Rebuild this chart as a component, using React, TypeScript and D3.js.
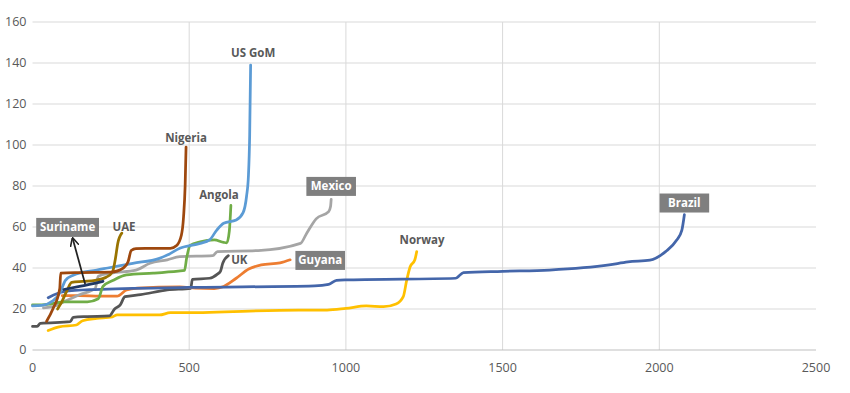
import React from "react";
import * as d3 from "d3";

// [x, y] points
const brazil = [[50,25.5],[100,28.5],[200,29.5],[500,30.5],[900,31.3],[945,32],[970,34],[1010,34.2],[1350,35],[1375,37.8],[1500,38.4],[1650,39],[1840,41.5],[1900,43],[1970,43.8],[2020,48],[2055,53.5],[2072,58.5],[2080,66]];
const usGom = [[0,21.5],[30,21.8],[65,24],[88,28],[105,34],[130,36.5],[205,39],[240,40],[320,42.3],[405,44.7],[430,46.3],[470,49.6],[535,52],[565,53.7],[588,58.5],[610,61.8],[650,63.4],[672,67],[683,75],[689,85],[693,105],[696,139]];
const nigeria = [[45,14],[65,20],[87,30],[90,37.5],[150,37.8],[250,38],[290,40],[305,43],[315,48.5],[330,49.5],[440,49.6],[460,51],[475,56],[482,65],[487,80],[490,99]];
const uae = [[80,20],[95,24],[110,29],[125,33],[160,33.5],[200,34],[235,35.5],[255,38],[265,45],[272,52],[285,57]];
const angola = [[0,22],[30,22],[60,22.5],[100,23.5],[175,23.5],[210,25],[225,31],[258,34],[300,36.6],[385,37.5],[465,38.5],[485,38.8],[492,45],[503,51],[535,52.8],[580,53.7],[610,52.5],[620,52.3],[628,58],[633,70.5]];
const mexico = [[35,20.5],[60,21],[80,22],[100,23.5],[150,27],[200,30],[210,36],[250,37.5],[330,39],[375,42.3],[430,44],[470,45.5],[575,46],[590,48],[720,48.5],[855,52],[875,57],[905,64],[945,67.5],[951,70],[953,73.5]];
const uk = [[0,11.5],[15,11.5],[25,13],[120,13.8],[130,15.9],[175,16.3],[245,16.6],[262,20],[280,22],[295,26],[345,27],[430,29.3],[505,30.1],[510,34.5],[565,35],[590,37],[600,38.5],[607,42.3],[625,46]];
const guyana = [[95,26.5],[150,26.5],[215,26.3],[270,26.3],[300,29.3],[335,30.2],[470,30.8],[520,30.2],[580,30],[610,31],[650,35],[690,39.5],[730,41.5],[790,42.5],[822,44]];
const norway = [[50,9.5],[85,11.3],[140,12.2],[160,14.3],[205,15.4],[255,16.2],[270,17.1],[405,17.1],[440,18.2],[490,18.2],[850,19.5],[940,19.5],[1000,20.3],[1065,21.5],[1120,21.1],[1160,22.4],[1183,26],[1194,34],[1205,40.6],[1220,44],[1226,48]];
const suriname = [[100,29.5],[150,31],[225,33.5]];

const series = [
  { name: "Norway", color: "#ffc000", data: norway },
  { name: "UK", color: "#555555", data: uk },
  { name: "Guyana", color: "#ed7d31", data: guyana },
  { name: "Mexico", color: "#a5a5a5", data: mexico },
  { name: "Brazil", color: "#4466aa", data: brazil },
  { name: "Angola", color: "#70ad47", data: angola },
  { name: "US GoM", color: "#5b9bd5", data: usGom },
  { name: "UAE", color: "#997300", data: uae },
  { name: "Nigeria", color: "#9e480e", data: nigeria },
  { name: "Suriname", color: "#203864", data: suriname },
];

// plain text labels and boxed labels, anchored in data units
const textLabels = [
  { text: "US GoM", x: 704, y: 145 },
  { text: "Nigeria", x: 490, y: 103.4 },
  { text: "Angola", x: 595, y: 75.6 },
  { text: "UAE", x: 292, y: 60 },
  { text: "UK", x: 660, y: 43.9 },
  { text: "Norway", x: 1243, y: 53.7 },
];
const boxLabels = [
  { text: "Mexico", x: 953, y: 79.8 },
  { text: "Guyana", x: 918, y: 43.7 },
  { text: "Brazil", x: 2080, y: 71.7 },
  { text: "Suriname", x: 112, y: 59.8 },
];
const surinameArrow = [[168, 32.2], [128, 54.5]];

const xTicks = [0, 500, 1000, 1500, 2000, 2500];
const yTicks = [0, 20, 40, 60, 80, 100, 120, 140, 160];

export default function App() {
  const width = 850;
  const height = 393;
  const marginLeft = 32.5;
  const marginRight = 34;
  const marginTop = 22;
  const marginBottom = 43;

  const x = d3.scaleLinear([0, 2500], [marginLeft, width - marginRight]);
  const y = d3.scaleLinear([0, 160], [height - marginBottom, marginTop]);

  const line = d3
    .line<number[]>()
    .x((d) => x(d[0]))
    .y((d) => y(d[1]))
    .curve(d3.curveMonotoneX);

  const font = "'Open Sans', sans-serif";

  return (
    <svg
      width={width}
      height={height}
      style={{ position: "absolute", left: 0, top: 0, background: "#fff" }}
    >
      <defs>
        <marker id="arrow" viewBox="0 0 10 10" refX="9" refY="5" markerWidth="5" markerHeight="5" orient="auto">
          <path d="M0,0 L10,5 L0,10" fill="none" stroke="#222" strokeWidth="1.8" />
        </marker>
      </defs>

      {/* grid */}
      {yTicks.slice(1).map((t) => (
        <line key={"gy" + t} x1={x(0)} x2={x(2500)} y1={y(t)} y2={y(t)} stroke="#d9d9d9" />
      ))}
      {xTicks.slice(1, -1).map((t) => (
        <line key={"gx" + t} x1={x(t)} x2={x(t)} y1={y(160)} y2={y(0)} stroke="#d9d9d9" />
      ))}
      <line x1={x(0)} x2={x(2500)} y1={y(0)} y2={y(0)} stroke="#bfbfbf" />

      {/* tick labels */}
      {yTicks.map((t) => (
        <text key={"ty" + t} x={x(0) - 6} y={y(t)} dy="0.35em" textAnchor="end"
          fontFamily={font} fontSize={12.5} fill="#595959">{t}</text>
      ))}
      {xTicks.map((t) => (
        <text key={"tx" + t} x={x(t)} y={y(0) + 18} dy="0.35em" textAnchor="middle"
          fontFamily={font} fontSize={12.5} fill="#595959">{t}</text>
      ))}

      {/* series */}
      {series.map((s) => (
        <path key={s.name} d={line(s.data) || ""} fill="none" stroke={s.color}
          strokeWidth={2.75} strokeLinejoin="round" strokeLinecap="round" />
      ))}

      {/* Suriname arrow */}
      <line x1={x(surinameArrow[0][0])} y1={y(surinameArrow[0][1])}
        x2={x(surinameArrow[1][0])} y2={y(surinameArrow[1][1])}
        stroke="#222" strokeWidth={1.75} markerEnd="url(#arrow)" />

      {/* labels */}
      {textLabels.map((l) => (
        <text key={l.text} x={x(l.x)} y={y(l.y)} dy="0.35em" textAnchor="middle"
          fontFamily={font} fontSize={11.5} fontWeight="bold" fill="#595959">{l.text}</text>
      ))}
      {boxLabels.map((l) => {
        const w = l.text.length * 6.6 + 10;
        return (
          <g key={l.text} transform={`translate(${x(l.x)},${y(l.y)})`}>
            <rect x={-w / 2} y={-9.5} width={w} height={19} fill="#7f7f7f" />
            <text dy="0.35em" textAnchor="middle" fontFamily={font} fontSize={11.5}
              fontWeight="bold" fill="#fff">{l.text}</text>
          </g>
        );
      })}
    </svg>
  );
}
